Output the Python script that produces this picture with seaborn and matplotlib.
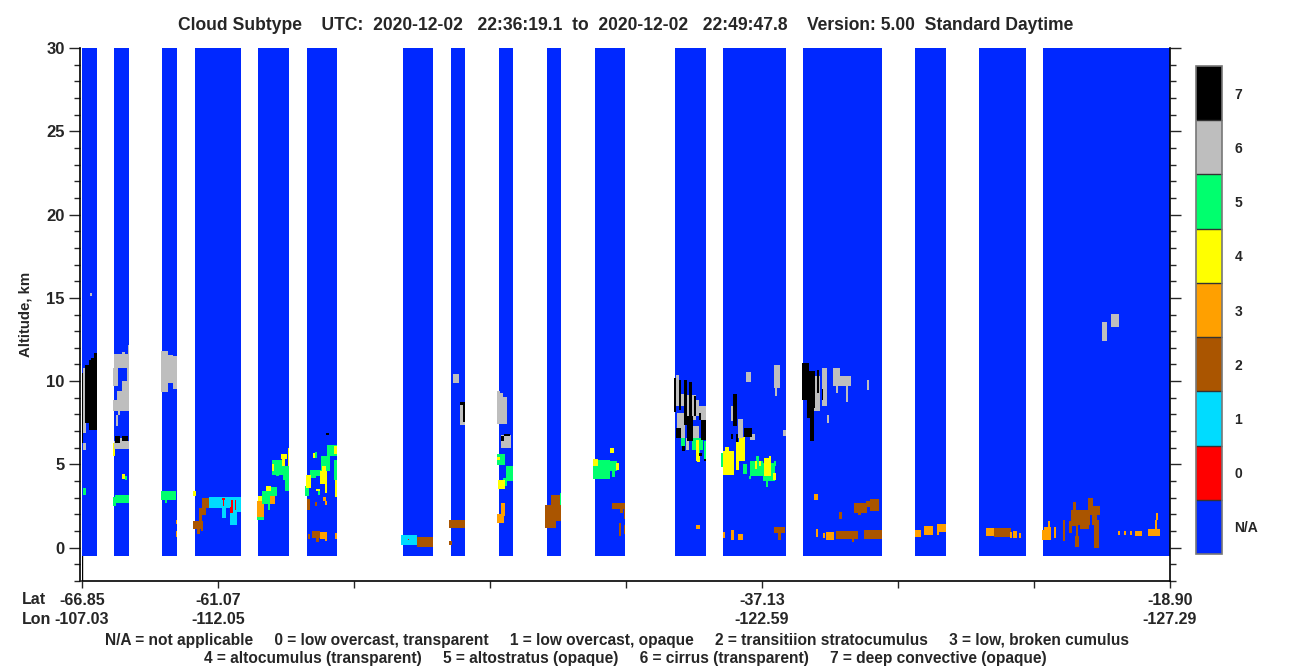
# -*- coding: utf-8 -*-
"""
Cloud subtype curtain: one granule, altitude vs along-track profile.
"""
import numpy as np
import pandas as pd
import seaborn as sns
import matplotlib.pyplot as plt
from matplotlib.colors import ListedColormap

# along-track profiles and altitude bins
n_profiles = 1088
alt_min = -2.0
alt_step = 0.06
n_bins = 533
swath_floor = -0.48

# profiles that have data (first, last)
swath_first = [0, 32, 80, 113, 176, 225, 321, 369, 417, 465, 513, 593, 641, 721, 833, 897, 961]
swath_last = [15, 47, 95, 159, 207, 255, 351, 383, 431, 479, 543, 624, 704, 800, 864, 944, 1088]

# cloud patches per subtype: (first profile, last profile, alt bottom, alt top)
brown = [
    (120, 127, 2.38, 3.0), (117, 124, 1.98, 2.38), (117, 120, 1.38, 1.98), (111, 121, 1.12, 1.58),
    (115, 118, 0.84, 1.12), (119, 121, 0.98, 1.12),
    (225, 228, 2.24, 2.94), (233, 235, 2.52, 2.76), (230, 238, 0.58, 1.02), (234, 237, 0.32, 0.58),
    (226, 228, 0.54, 0.84),
    (335, 351, 0.02, 0.62), (367, 383, 1.18, 1.68), (367, 370, 0.18, 0.42),
    (463, 474, 1.18, 2.58), (469, 479, 1.62, 3.18),
    (530, 543, 2.34, 2.68), (538, 541, 2.08, 2.34), (542, 543, 1.72, 2.34),
    (537, 539, 0.72, 1.5), (542, 543, 0.84, 1.38),
    (692, 703, 0.9, 1.26), (696, 699, 0.48, 0.9),
    (757, 760, 1.74, 2.16), (772, 785, 2.08, 2.68), (784, 788, 2.44, 2.78), (788, 797, 2.18, 2.94),
    (776, 779, 1.98, 2.08),
    (754, 776, 0.54, 1.02), (770, 772, 0.36, 0.54), (782, 800, 0.54, 1.08),
    (912, 929, 0.64, 1.2),
    (981, 983, 0.38, 1.68), (987, 990, 0.88, 1.58), (990, 996, 1.3, 1.58), (993, 997, 0.06, 0.72),
    (994, 996, 0.72, 1.3), (989, 1008, 1.38, 2.28), (991, 994, 2.28, 2.76), (1006, 1018, 1.98, 2.52),
    (1006, 1011, 2.52, 3.0), (1012, 1017, 0.0, 1.68), (1010, 1015, 1.38, 1.98), (998, 1007, 1.14, 1.38),
]
orange = [
    (94, 95, 1.44, 1.68), (94, 95, 0.62, 1.02),
    (175, 182, 1.84, 2.78), (182, 192, 2.64, 3.18), (191, 193, 2.64, 3.08),
    (241, 244, 2.78, 3.06), (243, 245, 2.54, 2.82), (238, 245, 0.52, 0.94), (243, 245, 0.38, 0.52),
    (253, 255, 0.54, 0.9),
    (419, 423, 1.88, 2.68), (415, 422, 1.48, 2.04),
    (614, 618, 1.14, 1.38),
    (641, 643, 0.6, 0.96), (649, 652, 0.48, 1.08), (656, 661, 0.48, 0.84),
    (732, 736, 2.88, 3.24), (734, 736, 0.66, 1.14), (741, 743, 0.6, 0.9), (744, 752, 0.48, 0.96),
    (833, 839, 0.64, 1.08), (842, 851, 0.78, 1.28), (855, 864, 0.96, 1.44), (855, 857, 0.78, 0.96),
    (904, 912, 0.68, 1.18), (928, 930, 0.6, 0.92), (931, 935, 0.56, 1.0), (937, 939, 0.56, 0.88),
    (960, 969, 0.48, 1.08), (962, 969, 1.08, 1.24), (966, 968, 1.24, 1.58), (972, 974, 0.6, 1.24),
    (1036, 1038, 0.78, 1.02), (1042, 1044, 0.78, 1.02), (1048, 1050, 0.78, 1.02),
    (1053, 1060, 0.72, 1.02), (1066, 1078, 0.68, 1.12), (1073, 1075, 1.12, 1.68), (1074, 1076, 1.68, 2.08),
]
cyan = [
    (127, 159, 2.4, 3.04), (140, 144, 1.8, 2.4), (148, 155, 1.38, 2.4), (155, 159, 2.12, 2.4),
    (319, 335, 0.18, 0.78),
]
red = [
    (140, 143, 2.88, 2.98), (141, 142, 2.48, 2.88), (149, 151, 2.08, 2.88), (153, 154, 2.24, 2.84),
    (148, 149, 2.08, 2.44), (326, 327, 0.44, 0.5),
]
green = [
    (1, 4, 3.18, 3.58),
    (43, 45, 4.04, 4.28), (33, 47, 2.68, 3.18), (31, 34, 2.48, 3.04),
    (79, 94, 2.84, 3.38), (83, 85, 2.68, 2.84),
    (180, 188, 2.64, 3.38), (175, 182, 1.68, 1.84), (188, 195, 3.12, 3.64), (186, 188, 2.28, 2.64),
    (190, 201, 4.38, 5.28), (194, 197, 4.28, 4.38), (201, 207, 4.08, 4.88), (203, 207, 3.38, 4.28),
    (233, 235, 5.4, 5.76), (245, 255, 5.48, 6.18), (239, 248, 4.58, 5.48), (252, 255, 4.08, 5.28),
    (228, 234, 4.18, 4.68), (223, 227, 3.08, 3.68), (234, 241, 4.28, 4.68), (236, 238, 3.18, 3.42),
    (421, 424, 6.2, 6.5), (415, 423, 4.98, 5.64), (424, 431, 3.98, 4.88), (421, 425, 3.72, 4.18),
    (478, 479, 2.58, 3.28),
    (511, 528, 4.12, 5.28), (528, 535, 4.58, 5.18), (530, 533, 4.22, 4.58),
    (599, 603, 6.08, 6.58), (610, 621, 5.88, 6.58), (614, 618, 5.48, 5.88), (622, 624, 5.32, 6.38),
    (639, 641, 4.84, 5.68), (647, 649, 5.18, 5.58),
    (661, 665, 4.44, 5.04), (668, 681, 4.32, 5.18), (674, 677, 5.18, 5.52), (667, 669, 4.14, 4.32),
    (681, 693, 3.98, 5.08), (684, 686, 3.62, 3.98), (692, 694, 4.92, 5.22),
]
yellow = [
    (31, 33, 5.48, 6.28), (40, 43, 4.12, 4.44), (37, 38, 6.08, 6.28), (40, 41, 6.08, 6.28),
    (111, 114, 3.08, 3.38), (184, 189, 3.38, 3.72), (176, 180, 2.78, 3.08),
    (199, 205, 5.32, 5.64), (200, 203, 4.92, 5.32), (206, 207, 4.88, 5.98), (190, 192, 4.58, 5.04),
    (231, 233, 5.4, 5.68), (252, 255, 5.64, 6.08), (240, 244, 4.58, 4.88), (238, 245, 3.84, 4.58),
    (243, 245, 3.28, 3.84), (253, 255, 3.04, 4.08), (224, 229, 3.58, 4.38), (234, 238, 3.42, 3.54),
    (415, 418, 5.28, 5.46), (416, 423, 3.54, 4.08),
    (511, 516, 4.92, 5.34), (528, 532, 5.7, 6.0), (534, 537, 4.68, 5.1),
    (614, 617, 5.18, 6.48), (615, 618, 5.12, 5.5),
    (641, 652, 4.38, 5.82), (643, 647, 5.82, 6.04),
    (654, 663, 5.18, 6.32), (654, 657, 4.68, 5.18), (657, 663, 6.32, 6.64),
    (682, 689, 4.28, 5.38), (687, 689, 5.38, 5.52), (691, 694, 4.04, 4.48),
    (673, 675, 4.7, 5.2), (677, 679, 4.9, 5.2),
]
gray = [
    (8, 10, 15.08, 15.28), (1, 4, 6.88, 10.78), (1, 4, 5.84, 6.28),
    (32, 47, 10.78, 11.64), (46, 47, 11.64, 12.18), (40, 43, 11.64, 11.72), (31, 36, 9.72, 10.78),
    (45, 47, 9.48, 10.78), (40, 47, 8.78, 9.98), (35, 40, 8.78, 9.38), (31, 47, 8.18, 8.84),
    (36, 38, 7.98, 8.18), (34, 36, 7.32, 7.98), (32, 47, 5.94, 6.38), (38, 41, 6.28, 6.58),
    (79, 86, 9.32, 11.78), (86, 91, 9.88, 11.58), (91, 95, 9.54, 11.48),
    (371, 377, 9.9, 10.44), (378, 383, 7.38, 8.74),
    (415, 418, 7.44, 9.42), (418, 421, 7.44, 9.28), (421, 425, 7.44, 9.04), (419, 429, 6.0, 6.78),
    (594, 597, 8.48, 10.38), (599, 602, 8.48, 9.24), (605, 607, 6.68, 9.18), (610, 614, 7.68, 9.18),
    (614, 617, 7.88, 8.84), (617, 624, 7.68, 8.52), (610, 617, 6.58, 7.32), (595, 603, 7.18, 8.08),
    (599, 603, 6.58, 7.18), (604, 607, 5.88, 6.58),
    (649, 651, 7.62, 8.48), (664, 669, 9.96, 10.56), (692, 698, 9.58, 10.98), (693, 695, 9.12, 9.58),
    (656, 661, 6.58, 7.74), (668, 673, 6.48, 6.84), (701, 704, 6.72, 7.08),
    (732, 738, 8.18, 10.28), (740, 745, 8.52, 10.78), (745, 747, 7.5, 7.98), (751, 769, 9.72, 10.28),
    (751, 758, 10.28, 10.78), (754, 756, 9.28, 9.72), (764, 766, 8.76, 9.72), (785, 787, 9.48, 10.08),
    (1020, 1025, 12.4, 13.52), (1029, 1037, 13.26, 14.02),
]
black = [
    (0, 1, 6.3, 10.5), (3, 7, 7.48, 10.98), (7, 9, 7.04, 11.28), (9, 12, 7.08, 11.38), (12, 15, 7.04, 11.68),
    (33, 38, 6.28, 6.68), (40, 46, 6.38, 6.72),
    (244, 247, 6.78, 6.9), (381, 383, 7.52, 8.58), (378, 383, 8.58, 8.74),
    (419, 422, 6.38, 6.72), (422, 428, 6.72, 6.84),
    (592, 594, 8.12, 10.18), (597, 599, 8.28, 10.08), (602, 605, 7.38, 10.08), (607, 610, 7.88, 9.94),
    (605, 611, 6.38, 7.88), (612, 614, 7.92, 9.08), (617, 619, 7.68, 8.08), (619, 624, 6.48, 7.68),
    (594, 599, 6.58, 7.18), (600, 603, 5.82, 6.08), (617, 620, 5.48, 5.68), (622, 624, 5.18, 5.32),
    (651, 655, 7.28, 9.24), (654, 656, 6.32, 6.84), (649, 651, 6.52, 6.84), (662, 670, 6.64, 7.2),
    (720, 727, 8.88, 11.08), (727, 733, 8.38, 10.58), (725, 728, 7.78, 8.88), (728, 732, 6.38, 8.38),
    (735, 737, 9.28, 10.68), (740, 741, 8.88, 9.52),
]
patch_lists = [brown, orange, cyan, red, green, yellow, gray, black]
patch_codes = [2, 3, 1, 0, 5, 4, 6, 7]

# colour scale, N/A is coded -1
palette = ["#0028ff", "#ff0000", "#00dcff", "#aa5500", "#ffa000", "#ffff00", "#00ff6e", "#bebebe", "#000000"]
code_labels = ["N/A", "0", "1", "2", "3", "4", "5", "6", "7"]

# axis labels
alt_major = [0, 5, 10, 15, 20, 25, 30]
alt_minor = list(range(-2, 31))
lat_lon_ticks = [0, 136, 272, 408, 544, 680, 816, 952, 1088]
lat_labels = ["-66.85", "-61.07", "", "", "", "-37.13", "", "", "-18.90"]
lon_labels = ["-107.03", "-112.05", "", "", "", "-122.59", "", "", "-127.29"]

title = ("Cloud Subtype    UTC:  2020-12-02   22:36:19.1  to  2020-12-02   22:49:47.8    "
         "Version: 5.00  Standard Daytime")
key_line1 = ("N/A = not applicable     0 = low overcast, transparent     1 = low overcast, opaque     "
             "2 = transitiion stratocumulus     3 = low, broken cumulus")
key_line2 = ("4 = altocumulus (transparent)     5 = altostratus (opaque)     "
             "6 = cirrus (transparent)     7 = deep convective (opaque)")


def alt2row(alt):
    return (np.asarray(alt, dtype = float) - alt_min) / alt_step


def build_curtain():
    curtain = np.full((n_bins, n_profiles), np.nan)
    floor = int(round(alt2row(swath_floor)))
    for first, last in zip(swath_first, swath_last):
        curtain[floor:, first:last] = -1
    for patches, code in zip(patch_lists, patch_codes):
        for first, last, bottom, top in patches:
            r0, r1 = int(round(alt2row(bottom))), int(round(alt2row(top)))
            curtain[r0:r1, first:last] = code
    return pd.DataFrame(curtain)


if __name__ == '__main__':
    sns.set_style("ticks")
    plt.rcParams['font.family'] = ['Liberation Sans', 'DejaVu Sans']
    plt.rcParams['font.weight'] = 'bold'

    W, H = 1300, 667
    fig = plt.figure(figsize = (W / 100, H / 100), dpi = 100, facecolor = "white")
    ax = fig.add_axes([82 / W, 1 - 581 / H, 1088 / W, 533 / H])
    cax = fig.add_axes([1196 / W, 1 - 554 / H, 26 / W, 488 / H])

    data2plot = build_curtain()
    cmap = ListedColormap(palette)
    sns.heatmap(data2plot, ax = ax, cbar_ax = cax, cmap = cmap, vmin = -1.5, vmax = 7.5, square = False,
                xticklabels = False, yticklabels = False, rasterized = True,
                cbar_kws = {"ticks": list(range(-1, 8)), "drawedges": True})
    ax.set_facecolor("white")
    ax.set_ylim(0, n_bins)

    # altitude ticks on both sides
    ax.set_yticks(alt2row(alt_major))
    ax.set_yticklabels([str(a) for a in alt_major])
    ax.set_yticks(alt2row(alt_minor), minor = True)
    ax.tick_params(axis = "y", which = "major", length = 8, width = 1, left = True, right = True, pad = 3,
                   labelsize = 12)
    ax.tick_params(axis = "y", which = "minor", length = 4.5, width = 1, left = True, right = True)
    ax.set_ylabel("Altitude, km", fontsize = 10.8, fontweight = "bold", labelpad = 10)

    # lat / lon share the x ticks
    ax.set_xticks(lat_lon_ticks)
    ax.set_xticklabels([a + "\n" + o for a, o in zip(lat_labels, lon_labels)], fontsize = 11.5,
                       fontweight = "bold", rotation = 0, linespacing = 1.35)
    ax.tick_params(axis = "x", length = 5, width = 1, pad = 3.5)

    # axes frame, no top line
    for side in ["left", "right", "bottom"]:
        ax.spines[side].set_visible(True)
        ax.spines[side].set_linewidth(1.2)
        ax.spines[side].set_color("black")
    ax.spines["top"].set_visible(False)
    ax.spines["left"].set_position(("outward", 1.5))
    ax.axvline(0, color = "black", lw = 1, zorder = 0.5)

    # colour bar
    cbar = ax.collections[0].colorbar
    cbar.set_ticklabels(code_labels)
    cbar.ax.tick_params(length = 0, pad = 9, labelsize = 10)
    for lab in cbar.ax.get_yticklabels():
        lab.set_fontweight("bold")
    cbar.outline.set_edgecolor("#777777")
    cbar.outline.set_linewidth(1.2)
    cbar.dividers.set_color("#333333")
    cbar.dividers.set_linewidth(1)

    fig.text(626 / W, 1 - 25 / H, title, fontsize = 12.65, fontweight = "bold", ha = "center", va = "center")
    fig.text(22 / W, 1 - 600 / H, "Lat", fontsize = 11.5, fontweight = "bold", va = "center")
    fig.text(22 / W, 1 - 619 / H, "Lon", fontsize = 11.5, fontweight = "bold", va = "center")
    fig.text(617 / W, 1 - 640 / H, key_line1, fontsize = 11.17, fontweight = "bold", ha = "center", va = "center")
    fig.text(625 / W, 1 - 658 / H, key_line2, fontsize = 11.17, fontweight = "bold", ha = "center", va = "center")

    fig.savefig("out.png", dpi = 100)
